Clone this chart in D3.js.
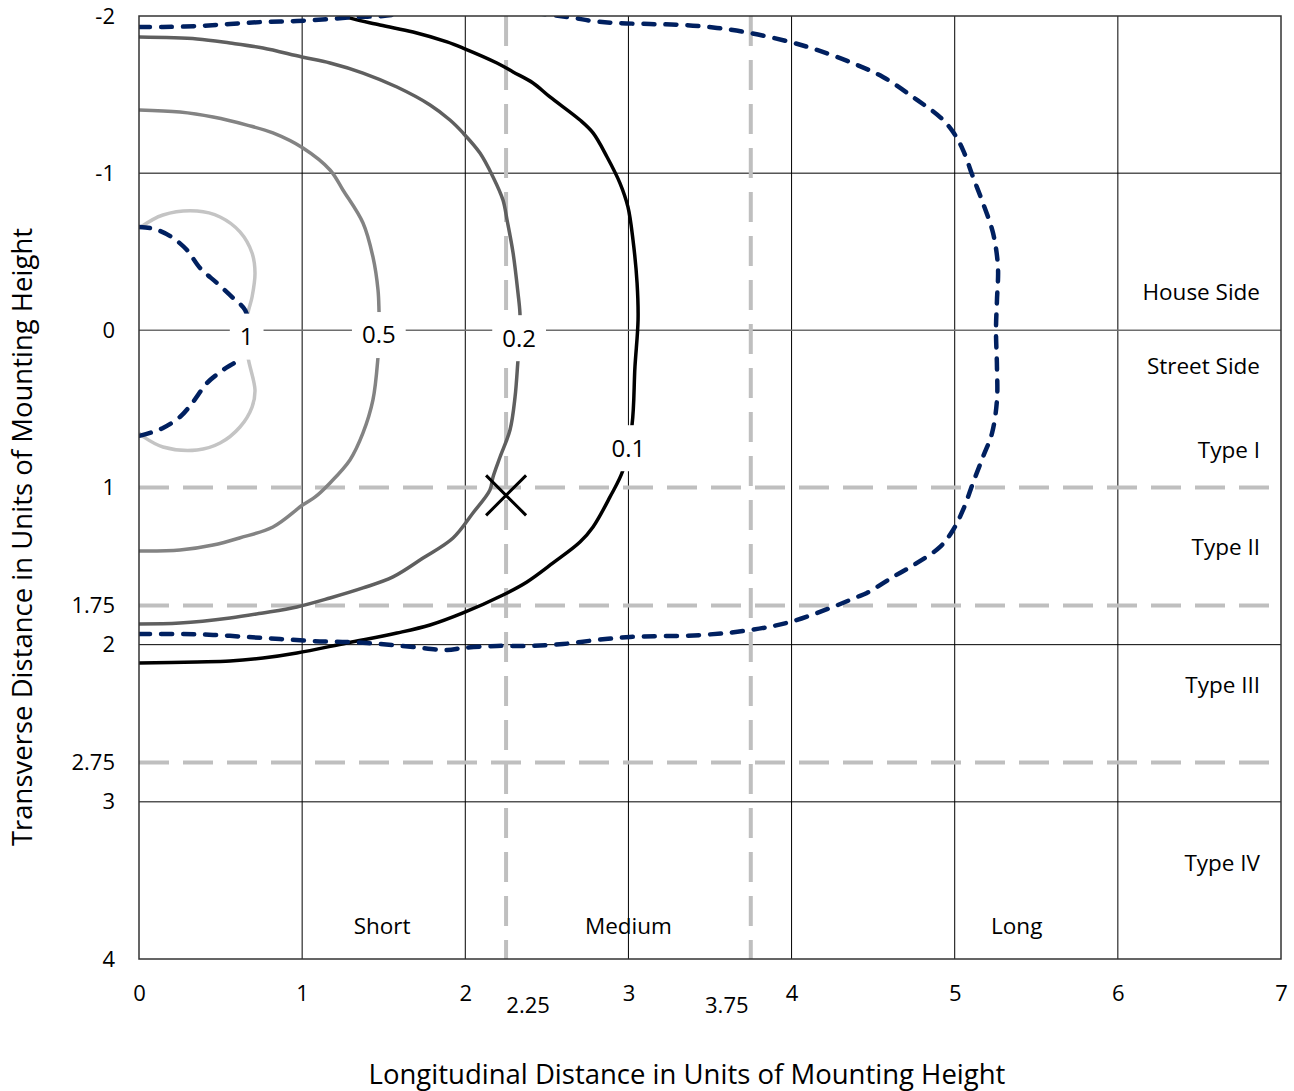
<!DOCTYPE html>
<html>
<head>
<meta charset="utf-8">
<script src="https://cdn.jsdelivr.net/npm/d3@7"></script>
<style>
  body { margin: 0; background: #fff; }
  text { font-family: "Open Sans", "Noto Sans", sans-serif; fill: #000; }
</style>
</head>
<body>
<svg id="svg1" width="1294" height="1091"></svg>
<script>
// tick values
var xTicks = [0, 1, 2, 3, 4, 5, 6, 7];
var xExtraTicks = [2.25, 3.75];
var yTicks = [-2, -1, 0, 1, 1.75, 2, 2.75, 3, 4];
var gridX = [1, 2, 3, 4, 5, 6];
var gridY = [-1, 0, 2, 3];
var dashedX = [2.25, 3.75];
var dashedY = [1, 1.75, 2.75];

// isofootcandle lines [longitudinal, transverse]
var iso1 = [[0,-0.65],[0.147,-0.734],[0.356,-0.759],[0.497,-0.721],[0.619,-0.626],[0.693,-0.492],[0.711,-0.365],[0.693,-0.212],[0.668,-0.11],[0.66,0.03],[0.668,0.17],[0.711,0.38],[0.693,0.488],[0.619,0.615],[0.497,0.717],[0.356,0.761],[0.147,0.742],[0.03,0.679],[0,0.653]];
var iso05 = [[0,-1.402],[0.251,-1.389],[0.454,-1.357],[0.662,-1.306],[0.821,-1.256],[1.005,-1.16],[1.171,-1.02],[1.25,-0.893],[1.373,-0.683],[1.434,-0.467],[1.465,-0.257],[1.471,-0.129],[1.473,0.02],[1.465,0.17],[1.434,0.443],[1.373,0.653],[1.293,0.825],[1.171,0.971],[1.08,1.06],[1.005,1.11],[0.821,1.251],[0.616,1.321],[0.454,1.366],[0.251,1.398],[0,1.404]];
var iso02 = [[0,-1.866],[0.356,-1.854],[0.558,-1.828],[0.76,-1.796],[0.999,-1.739],[1.171,-1.701],[1.373,-1.637],[1.581,-1.548],[1.784,-1.434],[1.906,-1.338],[1.986,-1.256],[2.09,-1.128],[2.17,-0.976],[2.231,-0.829],[2.256,-0.702],[2.293,-0.492],[2.323,-0.238],[2.335,-0.11],[2.335,0.03],[2.323,0.189],[2.305,0.424],[2.274,0.634],[2.213,0.806],[2.17,0.933],[2.151,1.016],[2.047,1.162],[1.925,1.321],[1.741,1.449],[1.557,1.569],[1.373,1.639],[1.171,1.703],[0.968,1.76],[0.76,1.798],[0.558,1.83],[0.251,1.862],[0,1.868]];
var iso01 = [[1.2,-2.03],[1.25,-2.0],[1.477,-1.943],[1.68,-1.898],[1.888,-1.835],[1.986,-1.796],[2.194,-1.701],[2.293,-1.644],[2.415,-1.574],[2.519,-1.485],[2.703,-1.338],[2.783,-1.256],[2.869,-1.103],[2.948,-0.937],[2.997,-0.785],[3.028,-0.575],[3.053,-0.301],[3.059,-0.066],[3.04,0.233],[3.022,0.602],[2.967,0.889],[2.887,1.06],[2.783,1.251],[2.703,1.347],[2.538,1.48],[2.378,1.601],[2.231,1.684],[1.986,1.798],[1.784,1.875],[1.581,1.926],[1.275,1.989],[0.968,2.053],[0.76,2.085],[0.558,2.104],[0.356,2.11],[0,2.117]];

// half maximum candlepower trace, inner and outer parts
var halfMaxInner = [[0,-0.658],[0.067,-0.651],[0.129,-0.632],[0.208,-0.588],[0.294,-0.511],[0.374,-0.397],[0.478,-0.301],[0.576,-0.206],[0.65,-0.129],[0.68,0.03],[0.619,0.176],[0.515,0.252],[0.417,0.335],[0.331,0.456],[0.251,0.551],[0.147,0.621],[0.067,0.653],[0,0.672]];
var halfMaxOuter = [[0,-1.93],[0.147,-1.93],[0.356,-1.936],[0.558,-1.949],[0.76,-1.962],[0.968,-1.968],[1.171,-1.981],[1.336,-1.994],[1.495,-2.0],[1.8,-2.04],[2.2,-2.04],[2.624,-1.994],[2.783,-1.968],[2.93,-1.955],[3.132,-1.949],[3.335,-1.943],[3.543,-1.924],[3.745,-1.892],[3.99,-1.835],[4.156,-1.784],[4.358,-1.707],[4.56,-1.612],[4.769,-1.466],[4.91,-1.357],[4.99,-1.262],[5.051,-1.147],[5.112,-0.976],[5.173,-0.81],[5.235,-0.619],[5.265,-0.403],[5.259,-0.193],[5.253,-0.002],[5.259,0.233],[5.259,0.443],[5.229,0.653],[5.173,0.806],[5.112,0.971],[5.051,1.143],[4.99,1.27],[4.91,1.378],[4.769,1.48],[4.622,1.569],[4.462,1.671],[4.401,1.697],[4.236,1.767],[3.99,1.856],[3.745,1.907],[3.439,1.939],[3.01,1.951],[2.807,1.97],[2.599,1.996],[2.397,2.008],[2.194,2.008],[1.986,2.021],[1.888,2.034],[1.68,2.015],[1.477,1.996],[1.275,1.983],[1.067,1.977],[0.864,1.964],[0.662,1.951],[0.454,1.938],[0.251,1.932],[0,1.932]];

var maxCandlepower = [[2.25, 1.05]];

var contourLabels = [
  {text: '1', x: 0.66, y: 0.04},
  {text: '0.5', x: 1.47, y: 0.03},
  {text: '0.2', x: 2.33, y: 0.05},
  {text: '0.1', x: 3.0, y: 0.75}
];
var sideLabels = [
  {text: 'House Side', y: -0.24},
  {text: 'Street Side', y: 0.23},
  {text: 'Type I', y: 0.76},
  {text: 'Type II', y: 1.38},
  {text: 'Type III', y: 2.26},
  {text: 'Type IV', y: 3.39}
];
var rangeLabels = [
  {text: 'Short', x: 1.49},
  {text: 'Medium', x: 3.0},
  {text: 'Long', x: 5.38}
];

var svg = d3.select('#svg1');
var plotLeft = 139, plotRight = 1281, plotTop = 16, plotBottom = 959;

var scaleX = d3.scaleLinear().domain([0, 7]).range([plotLeft, plotRight]);
var scaleY = d3.scaleLinear().domain([-2, 4]).range([plotTop, plotBottom]);
var fmt = function(d){ return String(d); };

svg.append('defs').append('clipPath').attr('id', 'plotClip')
  .append('rect').attr('x', plotLeft).attr('y', plotTop)
  .attr('width', plotRight - plotLeft).attr('height', plotBottom - plotTop);

// grid
svg.selectAll('.grid-x').data(gridX).enter().append('line')
  .attr('x1', function(d){ return scaleX(d); }).attr('x2', function(d){ return scaleX(d); })
  .attr('y1', plotTop).attr('y2', plotBottom)
  .attr('stroke', '#000').attr('stroke-width', 1);
svg.selectAll('.grid-y').data(gridY).enter().append('line')
  .attr('x1', plotLeft).attr('x2', plotRight)
  .attr('y1', function(d){ return scaleY(d); }).attr('y2', function(d){ return scaleY(d); })
  .attr('stroke', function(d){ return d === 0 ? '#6e6e6e' : '#000'; })
  .attr('stroke-width', function(d){ return d === 0 ? 1.5 : 1; });

// dashed class boundaries
svg.selectAll('.dash-x').data(dashedX).enter().append('line')
  .attr('x1', function(d){ return scaleX(d); }).attr('x2', function(d){ return scaleX(d); })
  .attr('y1', plotTop).attr('y2', plotBottom)
  .attr('stroke', '#bfbfbf').attr('stroke-width', 4).attr('stroke-dasharray', '30,14');
svg.selectAll('.dash-y').data(dashedY).enter().append('line')
  .attr('x1', plotLeft).attr('x2', plotRight)
  .attr('y1', function(d){ return scaleY(d); }).attr('y2', function(d){ return scaleY(d); })
  .attr('stroke', '#bfbfbf').attr('stroke-width', 4).attr('stroke-dasharray', '30,14');

var line = d3.line()
  .x(function(d){ return scaleX(d[0]); })
  .y(function(d){ return scaleY(d[1]); })
  .curve(d3.curveCatmullRom.alpha(0.5));

var curves = svg.append('g').attr('clip-path', 'url(#plotClip)');

var isoSeries = [
  {pts: iso1, color: '#c4c4c4', w: 3.5},
  {pts: iso05, color: '#838383', w: 3.5},
  {pts: iso02, color: '#5f5f5f', w: 3.5},
  {pts: iso01, color: '#000', w: 3.5}
];
isoSeries.forEach(function(s){
  curves.append('path').attr('d', line(s.pts))
    .attr('fill', 'none').attr('stroke', s.color).attr('stroke-width', s.w)
    .attr('stroke-linejoin', 'round');
});

[halfMaxInner, halfMaxOuter].forEach(function(p){
  curves.append('path').attr('d', line(p))
    .attr('fill', 'none').attr('stroke', '#002060').attr('stroke-width', 4.5)
    .attr('stroke-dasharray', '11,11').attr('stroke-linecap', 'round');
});

// max candlepower marker
maxCandlepower.forEach(function(d){
  var cx = scaleX(d[0]), cy = scaleY(d[1]), r = 20;
  svg.append('path')
    .attr('d', 'M' + (cx - r) + ',' + (cy - r) + 'L' + (cx + r) + ',' + (cy + r) +
               'M' + (cx - r) + ',' + (cy + r) + 'L' + (cx + r) + ',' + (cy - r))
    .attr('stroke', '#000').attr('stroke-width', 3);
});

// contour labels with white boxes
var lbl = svg.selectAll('.clabel').data(contourLabels).enter().append('g')
  .attr('transform', function(d){ return 'translate(' + scaleX(d.x) + ',' + scaleY(d.y) + ')'; });
lbl.append('text').attr('text-anchor', 'middle').attr('dy', '0.35em')
  .style('font-size', '24px').text(function(d){ return d.text; });
lbl.each(function(){
  var g = d3.select(this);
  var bb = g.select('text').node().getBBox();
  g.insert('rect', 'text').attr('x', bb.x - 10).attr('y', -23)
    .attr('width', bb.width + 20).attr('height', 46).attr('fill', '#fff');
});

// plot frame
svg.append('rect').attr('x', plotLeft).attr('y', plotTop)
  .attr('width', plotRight - plotLeft).attr('height', plotBottom - plotTop)
  .attr('fill', 'none').attr('stroke', '#333').attr('stroke-width', 1.5);

// axes
var xAxis = svg.append('g').attr('transform', 'translate(0,' + plotBottom + ')')
  .call(d3.axisBottom(scaleX).tickValues(xTicks).tickSize(0).tickPadding(26).tickFormat(fmt));
var xAxis2 = svg.append('g').attr('transform', 'translate(0,' + plotBottom + ')')
  .call(d3.axisBottom(scaleX).tickValues(xExtraTicks).tickSize(0).tickPadding(38).tickFormat(fmt));
xAxis2.selectAll('.tick').attr('transform', function(d){
  return 'translate(' + (scaleX(d) + (d < 3 ? 22 : -24)) + ',0)';
});
var yAxis = svg.append('g').attr('transform', 'translate(' + plotLeft + ',0)')
  .call(d3.axisLeft(scaleY).tickValues(yTicks).tickSize(0).tickPadding(24).tickFormat(fmt));
[xAxis, xAxis2, yAxis].forEach(function(a){
  a.select('.domain').remove();
  a.selectAll('text').style('font-size', '22px').style('font-family', '"Open Sans", sans-serif').attr('fill', '#000');
});

// side and range labels
svg.selectAll('.side').data(sideLabels).enter().append('text')
  .attr('x', 1260).attr('y', function(d){ return scaleY(d.y); })
  .attr('dy', '0.35em').attr('text-anchor', 'end').style('font-size', '22.5px')
  .text(function(d){ return d.text; });
svg.selectAll('.range').data(rangeLabels).enter().append('text')
  .attr('x', function(d){ return scaleX(d.x); }).attr('y', 926)
  .attr('dy', '0.35em').attr('text-anchor', 'middle').style('font-size', '22.5px')
  .text(function(d){ return d.text; });

// titles
svg.append('text').attr('x', 687).attr('y', 1074).attr('dy', '0.35em')
  .attr('text-anchor', 'middle').style('font-size', '27.5px')
  .text('Longitudinal Distance in Units of Mounting Height');
svg.append('text').attr('transform', 'translate(22,537) rotate(-90)').attr('dy', '0.35em')
  .attr('text-anchor', 'middle').style('font-size', '27.5px')
  .text('Transverse Distance in Units of Mounting Height');
</script>
</body>
</html>
